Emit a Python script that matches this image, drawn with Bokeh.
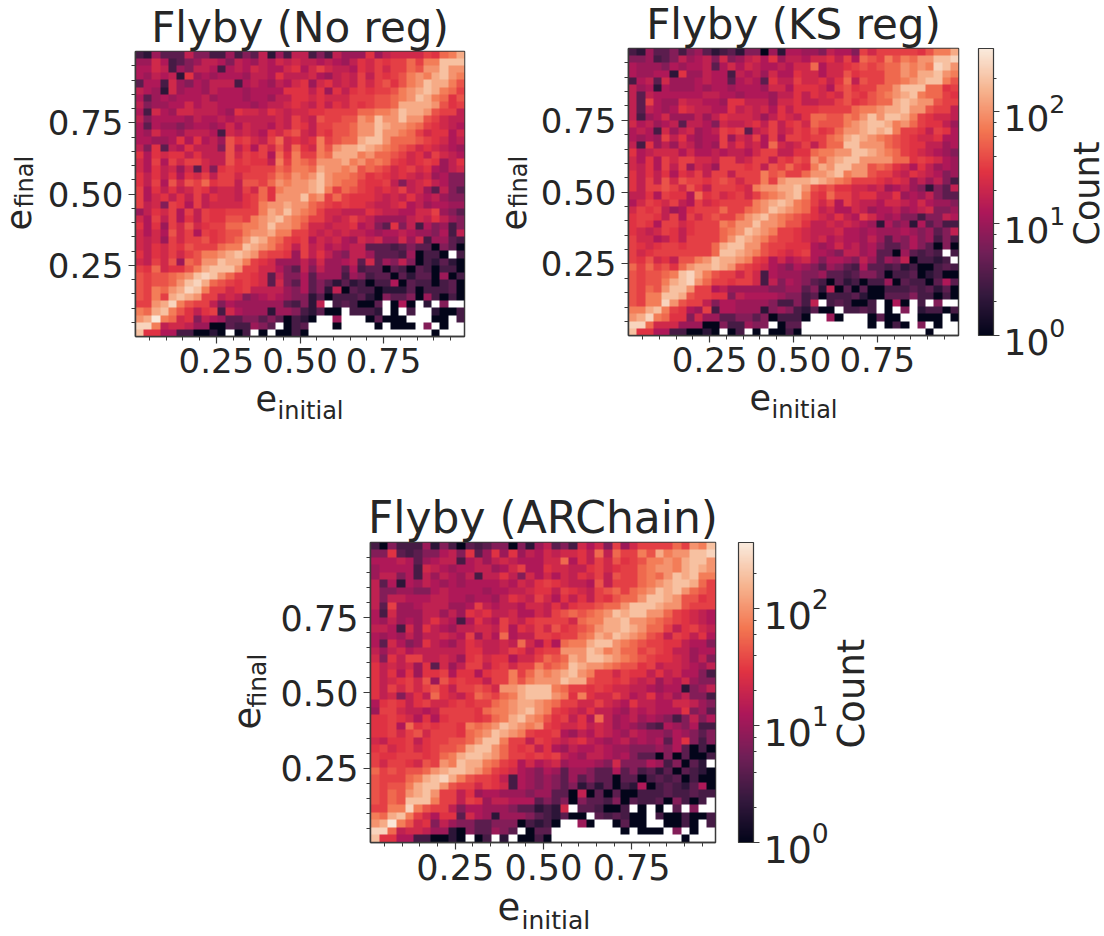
from bokeh.plotting import figure
from bokeh.layouts import column, row
from bokeh.models import (LogColorMapper, ColorBar, LogTicker, LogTickFormatter,
                          FixedTicker, Range1d, Label)
from bokeh.embed import file_html
from bokeh.resources import INLINE
import numpy as np

TITLES = ["Flyby (No reg)", "Flyby (KS reg)", "Flyby (ARChain)"]
X_LABEL = ("e", "initial")
Y_LABEL = ("e", "final")
BAR_LABEL = "Count"
MAJOR_TICKS = [0.25, 0.50, 0.75]
MINOR_TICKS = [0.05, 0.10, 0.15, 0.20, 0.30, 0.35, 0.40, 0.45, 0.55, 0.60, 0.65, 0.70, 0.80, 0.85, 0.90, 0.95]
# one character per cell: its bin count; "." is an empty bin
LEVEL_COUNTS = dict(a=1, b=2, c=3, d=4, e=7, f=10, g=13, h=17, i=22, j=28, k=34, l=44, m=57,
                    n=75, o=100, p=140, q=190, r=260, s=350)

NO_REG = [
"cbfdddheeccfcedhbfch" "hcechfffjfhiiiikjmnp",
"ffigcdefhhgehgfhgihi" "hhghgfhjikjkkmknnqqq",
"ggihcfehhgcghgihggij" "gikihhgjikikkmlooqoo",
"gfhghbjfgfgggfhhgjhh" "higfhihkhkjklnonpqon",
"dggcifegfhhhcghgfhgi" "jfijhihkikljlnoqppnl",
"hgfbifggfhgggfggggjj" "jhjfjhjkjkklnopqpnmk",
"gdfgfggghfgggfggfhhj" "jijiiikkkllmnoqpnmjl",
"heffggighhggggfghhij" "ihjhjikjkllmppppoljk",
"gcigfiihhhgfjiihjihi" "ijjkkkkmmnnoqppolkkh",
"heggggfhgghghhhhhihk" "ihlkkllonqooqoolkihh",
"gdgffefggfgigihhgihk" "jhkkllmooqpoonmkjihg",
"gfiggfhhhgcihihgjikl" "ihkjllmooqoonmkijjgi",
"ggffgjgjghfljkihkmij" "ijnklmmpqqommmlkjigh",
"hejdhgjhhhelhjgkilim" "jinloppqponmlkijihgf",
"jgjijjhjhhhlikjkgmjn" "kknmpppnommlkijhkihg",
"igkgkikkihhljkjjhnkn" "mlooopnomnmkjijkjfhj",
"igjhifidiejkjjkkkmln" "nmpoonolmlkijkijgfhi",
"jhjhjgjikhkkikkklnmo" "noqonnmljkjijihifgee",
"jhkglilkmjkkhllkmono" "opqonmmkjjkhehijhgee",
"kgjhjhikjhiihkimjnoo" "opqnkmlkjijikhifdhed",
"kgijhjhkhjiihjkmjooo" "qnokmkjjjihihjhghfee",
"khiekjgkhiiiijknoopo" "omlkjkjjihhijghfggff",
"fhjikgkhkjjkkkknpoqo" "nmkiihhhjihhggiikfed",
"igkhkgjhkjjllknopqon" "mkkihikihffffhihjhfe",
"jgjfkilijkkmmnnoqoon" "liihiijghedjehcgefce",
"igiglikgkjkllnoopnnk" "kihihihhgfgghgffegch",
"ihifkikkljklmoqpnmkj" "kgihigfihiffificffdc",
"ihjikjlkkkmnnqponlkh" "khighghhdddcdeddaeda",
"jhjikiklnnopqpolkkjf" "khjhfehhfdddcfacca.c",
"ihkilfmlooqppnkjifff" "hfiffghdidfeheacbdba",
"kjmijjlnpqqqokkiiged" "hehffdgcddadcadcacca",
"lkllmnoqrqomkkjidhee" "gdfffcfecddadbddafac",
"lkllmoqrpmlkjkjidied" "gdedbdbcaccgadccacda",
"lknmoprqnkkijkhhhhfe" "gdebhadccabbbdacccda",
"lknkpqpokkhihefghgfe" "ebdacccdbaeddeafcaca",
"kkoprnlkkhegffffffdc" "ebh.cdcaad.aga.b.e..",
"nmpqnljhjkcigfffbffe" "cbdaa.cccb.a.c..baac",
"opsnmijehgfddeededac" "ba..f...adaaa...aa.c",
"rrnhiihffaadccfed.ac" "d...a....a.aaa.e.a..",
"qjjggccaaba.ac.a.aac" "a...............a...",
]

KS_REG = [
"cbfddecefdbcdbeeafbg" "gffehggekikkkkkjlnnp",
"eefcdehfgheiefhigjfh" "hgiijhkgmlknlnmooqqr",
"gfffegfgghdgigihgghg" "iimgiijklklmmononrqo",
"gffggbjffhggchghfigg" "jiigiiljkkkmmonppqon",
"cghdifffghggdghgdjhh" "kiijhjmhlkkmmnopqqnl",
"hfgbgfffgfggfgggfiig" "jjjigkljkkmmoqqqmmjk",
"hdhgggggghhggfgggfhh" "jhjijilkjlmnopqnmmkj",
"hdkgffihhggfjjhhhfii" "jhhiikljklmmpqpoolkk",
"hdhgfgjihhggjhihigjh" "jjjkkkkmnnoppqoolkkh",
"hcfgifffhfhjiiihfhji" "hjmmllnmoqoqqpnkjiih",
"ighfghdhhgeihhijhkhj" "kimlllnopqqpnomkjjhf",
"ghgcifhifghkjkdhikhi" "kjljkmoopqpqnkkjhkjg",
"gfgfkhjgfggkfihkgkgk" "kjkkmnpqponmlkjiijgg",
"hcjfhfihfgfkhjhigmih" "ikhkmmqqooomlkjjhhfg",
"jghiiigigghghhgikkhh" "jjmnnooqqponmkjihgfe",
"igjgkikkiihkkhikkhkj" "lkomopqqoooommjkjigf",
"ihjgkhkfihfkkkjkhlkm" "kjnpoqqoolmljigjhfgf",
"jhjhjgjikhkkhkkknlmk" "kmoopqnoolkkihjihgef",
"jhkhlilkkjklkikknkop" "ppqponmkkkjijifhfhec",
"jhkklkiljhkkkjinoopp" "qolkljjiihifghfebedh",
"hhjgkjjgmjkijkikmnop" "qnkjmkkijjhhjfgfhedd",
"gikjikhgkijkkkknopqp" "nmkikgkihhgiihgigffe",
"ikjkhfgjkkkmkkmnoqpo" "nmjhiggihfgghfghieef",
"jkkjhkgkiklkkmopqonm" "lkjihjhgkigfgeeceehg",
"jkjgkkijkkknmooqoonl" "ljhhihihgfbgefbgdecc",
"jihikjhjkkkmnoqponkk" "jihhhiggfgfffgfefdeh",
"kiighjhkkkkmoqponlkk" "jihighggfhfdfegefcec",
"kjijkkjkkkmpqqoolkkj" "jjgfgighfgeddegedaea",
"kijkkkkkkkmqqponlkji" "jkggfehhfgddafdcdc.c",
"kjlijhllnoqpponkjgig" "higeggfehfdfehaccbc.",
"mkmkljmoppqpolkjigfe" "gfedfedcgddcdbcaacdc",
"lkllmnqrpnlkkikicgff" "feefddcdeedaccdabcaa",
"lkllnpqromkkjkkicheg" "fedcadbcaccfadccadgd",
"lkmloqqokkghfffffeef" "fdebhadadaacccdcdbda",
"lknnqqplkkjjehggggfe" "ecdacccdbaadddeccaca",
"lknnrolkkheggffffecc" "ech.cdcaac.aga.c.e..",
"nnpqnkjgfkcggfffbefe" "cbdaa.ccdc.a.e.bccac",
"oprnmjjeiffddeedeacc" "ca..fa...adaa..aaa.a",
"rrmiiifffaaeccfee.ad" "d........a.aca.e.a..",
"qjjggccaaba.ac.a.aac" "a...............a...",
]

ARCHAIN = [
"caecccfbecadcdeeaebf" "hdecigiekfikkkkmkonq",
"eejdcdeeghejdfjfjfhg" "ihiijhmhmkknlpnooqqr",
"ggghgdfghhcghfhihggg" "iimgjhkiljklnnonpqqo",
"fggggcihgfgghhfgikgg" "jiihhjkijkkmnoonpqpo",
"fhhegchfhgfhchhjheig" "igihjikhlkkmnmoqpqnn",
"hdgbgfhgfgfgggghgihj" "kjihhglhkkkmnopqqpmk",
"heeffeeghggggfgghhij" "jhkjihklmkmnoqpqomlk",
"hehhggghhggfggfhjihk" "igjhjhkjlmmoqqpolljk",
"hdkffghhhffgkhghhgii" "hjhjkklmmoqqqpoolkkk",
"gcifffhhfhfjijhhiggi" "hklmlmnoqpqqoomkjihg",
"gfhfgfhjhgcgjhgkihjk" "kkkimnnppqoonmlkjihg",
"hhgcifjhgfhhiihkgjik" "iljklmoppqpommkhjkih",
"gfgfhfhhihgkfigmghhk" "kjkkmnpoqponlkhkjhjg",
"gdigefjhgfhjihhihmig" "jgmnnpqqonmlkkjjhgge",
"hfhighhhhhhjjhhikjhj" "kkoooqpnommklkjhhfgg",
"iejhkkhhihfjkijjgiik" "mlmpoqqponmlkjjihfhe",
"jhihifjdifhkkhjkikkn" "lmnqpoonmlljkhiihgfh",
"jhjgjfjjkgjjgjkknkmo" "nopqonkkikjjhjhiggec",
"jhijkilfljkjjhkknlno" "ooqpplkkjkihifhgifee",
"jhkikikljhkklkioopqq" "qnmkkjkjiihhgfggbefh",
"jhiehjhmjihjmlkmnpqq" "qonjnjiikighjghfheec",
"gjkjhjkiijkjkkmnoppo" "nmkkiikihgjhhggiihfe",
"fkkihhghkkkkjmnnopqo" "nkjihjhhgfhghgggjefd",
"jjkjigjgjkkkjkmnpqon" "ljkhjgmhfghfgfeceheg",
"jjkgmjkjkkjnmnoqpono" "kjiijhihfgfedcgfegcc",
"jjkiklikkkjmnoqponkj" "jkgfhgihgfhgffegfede",
"ihjjkhjkkllmoqqnkkhk" "jihijhgfghfgfgdgjece",
"jkijkijkllmpqqomkjkh" "jgfhgghgffeeefegdaca",
"kjjkkkjkmnpqqpomkkjk" "jkhgfhhgfgeddaeadaac",
"kikkjilkonqppnmkjgig" "hifgggfeieeegfceadb.",
"mklkllmopqqpomkjigfe" "gfdffeddgdecdbdadcba",
"lkkkmnpqrpnlkkjhcgfe" "fedfdeddaddacdcdacaa",
"lkllnpqqolkkikjicgfe" "fedebdbdacbgacdcbdga",
"lkmlopqokkhjfggfffef" "fddahadadaacccdccdcc",
"lkmlqqqnkkhkjfhhgggd" "edeaeddceadccdaecac.",
"kknnrnlkkheggfffeddb" "cbi.ddcaac.a.a.d.e..",
"nmpqnkigjjdigfbfffed" "cbdaa.dcdcaa.caacaac",
"opsnlijehfeeddeeeacb" "ca..fa..adaa..aaca.c",
"rrmhiihffbaeddfed.ad" "d........a.aaa.e.a..",
"qjjggccaaba.ac.b.aac" "a...............a...",
]

for name, rows_ in (("NO_REG", NO_REG), ("KS_REG", KS_REG), ("ARCHAIN", ARCHAIN)):
    bad = [(i, len(r)) for i, r in enumerate(rows_) if len(r) != 40]
    assert not bad and len(rows_) == 40, (name, len(rows_), bad)

# rocket colormap anchors
ANCHORS = [(0.0, "#03051a"), (1/7, "#35193e"), (2/7, "#701f57"), (3/7, "#ad1759"),
           (4/7, "#e13342"), (5/7, "#f37651"), (6/7, "#f6b48f"), (1.0, "#faebdd")]

def make_palette(n=256):
    out = []
    for i in range(n):
        t = i / (n - 1)
        for (t0, c0), (t1, c1) in zip(ANCHORS, ANCHORS[1:]):
            if t <= t1:
                f = (t - t0) / (t1 - t0)
                a = [int(c0[k:k + 2], 16) for k in (1, 3, 5)]
                b = [int(c1[k:k + 2], 16) for k in (1, 3, 5)]
                out.append("#%02x%02x%02x" % tuple(round(u + (v - u) * f) for u, v in zip(a, b)))
                break
    return out

PALETTE = make_palette()
INK = "#262626"
SPINE = "#3a3a3a"


def panel(rows_, title, frame_w, frame_h, left, top, bottom, right, scale, xr, yr,
          xlab, ylab, bar_gap=None, count=None):
    X0, X1 = xr
    Y0, Y1 = yr
    mapper = LogColorMapper(palette=PALETTE, low=1, high=370, nan_color=(0, 0, 0, 0))
    grid = np.array([[np.nan if ch == "." else LEVEL_COUNTS[ch] for ch in line] for line in rows_[::-1]], dtype=float)
    p = figure(frame_width=frame_w, frame_height=frame_h, output_backend="svg", toolbar_location=None,
               x_range=Range1d(X0, X1), y_range=Range1d(Y0, Y1),
               min_border_left=left, min_border_top=top, min_border_bottom=bottom, min_border_right=right)
    p.image(image=[grid], x=X0, y=Y0, dw=X1 - X0, dh=Y1 - Y0, color_mapper=mapper)
    p.grid.visible = False
    p.background_fill_color = "white"
    p.outline_line_color = SPINE
    p.outline_line_width = 1.5
    p.title.text = title
    p.title.align = "center"
    p.title.text_font = "DejaVu Sans"
    p.title.text_font_style = "normal"
    p.title.text_font_size = f"{round(42 * scale)}px"
    p.title.text_color = INK
    p.title.standoff = 0
    tick_font = f"{round(33.5 * scale)}px"
    for ax in (p.xaxis[0], p.yaxis[0]):
        ax.ticker = FixedTicker(ticks=MAJOR_TICKS, minor_ticks=MINOR_TICKS)
        ax.major_label_overrides = {t: f"{t:.2f}" for t in MAJOR_TICKS}
        ax.major_label_text_font = "DejaVu Sans"
        ax.major_label_text_font_size = tick_font
        ax.major_label_text_color = INK
        ax.axis_line_color = SPINE
        ax.axis_line_width = 1.5
        ax.major_tick_line_color = SPINE
        ax.major_tick_line_width = 1.2
        ax.minor_tick_line_color = SPINE
        ax.major_tick_in = 0
        ax.major_tick_out = 7
        ax.minor_tick_in = 0
        ax.minor_tick_out = 4
    p.xaxis[0].major_label_standoff = 4
    p.yaxis[0].major_label_standoff = 5

    big = f"{round(35 * scale)}px"
    small = f"{round(24 * scale)}px"
    lab = dict(x_units="screen", y_units="screen", text_font="DejaVu Sans", text_color=INK,
               text_align="left", text_baseline="alphabetic")
    p.add_layout(Label(x=xlab[0], y=xlab[1], text=X_LABEL[0], text_font_size=big, **lab), "below")
    p.add_layout(Label(x=xlab[2], y=xlab[3], text=X_LABEL[1], text_font_size=small, **lab), "below")
    p.add_layout(Label(x=ylab[0], y=ylab[1], text=Y_LABEL[0], text_font_size=big, angle=90, angle_units="deg", **lab), "left")
    p.add_layout(Label(x=ylab[2], y=ylab[3], text=Y_LABEL[1], text_font_size=small, angle=90, angle_units="deg", **lab), "left")
    if bar_gap is not None:
        cb = ColorBar(color_mapper=mapper, ticker=LogTicker(), formatter=LogTickFormatter(),
                      width=15, height=frame_h, location=(bar_gap, 0), padding=0, margin=0,
                      major_label_text_font="DejaVu Sans", major_label_text_font_size=f"{round(36 * scale)}px",
                      major_label_text_color=INK, major_tick_line_color=SPINE, major_tick_in=0, major_tick_out=6,
                      minor_tick_line_color=SPINE, minor_tick_in=0, minor_tick_out=3,
                      bar_line_color=SPINE, bar_line_width=1.2, label_standoff=4)
        p.add_layout(cb, "right")
        p.add_layout(Label(x=count[0], y=count[1], text=BAR_LABEL, text_font_size=big,
                           angle=90, angle_units="deg", **lab), "right")
    return p


p1 = panel(NO_REG, TITLES[0], 329, 285, 135, 43, 152, 10, 1.0, (0.008, 0.992), (0.001, 1.0),
           xlab=(120, 4, 142, 19), ylab=(-1, 106, 34, 129))
p1.margin = (0, 0, 0, -10)
p2 = panel(KS_REG, TITLES[1], 330, 287, 154, 40, 150, 146, 1.0, (0.008, 0.992), (0.001, 1.0),
           xlab=(121, 4, 143, 19), ylab=(1, 105, 35, 128), bar_gap=20, count=(18, 90))
p2.margin = (-3, -16, 3, 0)
p3 = panel(ARCHAIN, TITLES[2], 345, 300, 370, 54, 86, 180, 1.05, (0.010, 0.9875), (0.003, 1.0),
           xlab=(127, 3, 151, 18), ylab=(-4, 113, 36, 135), bar_gap=23, count=(20, 94))
p3.margin = (0, 0, -20, 0)

layout = column(row(p1, p2, spacing=0), p3, spacing=0)
open("out.html", "w").write(file_html(layout, INLINE))
